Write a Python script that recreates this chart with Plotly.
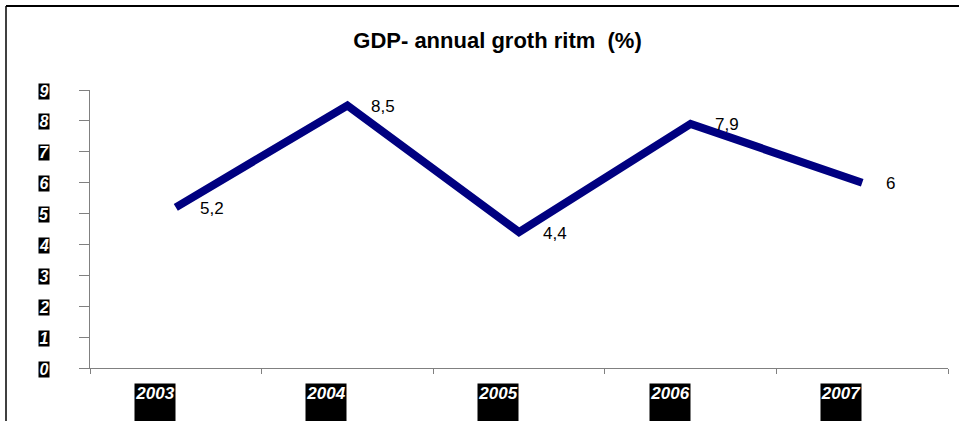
import plotly.graph_objects as go

years = ["2003", "2004", "2005", "2006", "2007"]
growth = [5.2, 8.5, 4.4, 7.9, 6.0]
value_labels = ["5,2", "8,5", "4,4", "7,9", "6"]
y_ticks = [0, 1, 2, 3, 4, 5, 6, 7, 8, 9]

FONT = "Arial, Liberation Sans, sans-serif"

fig = go.Figure()
fig.add_trace(go.Scatter(
    x=years, y=growth, mode="lines",
    line=dict(color="#000080", width=8),
    hoverinfo="skip", showlegend=False,
))

L, R, T, B = 90, 11, 90, 53
W, H = 959, 421
pw = W - L - R
ph = H - T - B

def px_x(px):
    return (px - L) / pw

def px_y(py):
    return (H - B - py) / ph

annotations = []
# data labels
for i, (v, lab) in enumerate(zip(growth, value_labels)):
    annotations.append(dict(
        x=i, y=v, xref="x", yref="y", text=lab, showarrow=False,
        xanchor="left", yanchor="middle", xshift=22, yshift=-1,
        font=dict(family=FONT, size=17, color="black"),
    ))
# y tick labels
for t in y_ticks:
    annotations.append(dict(
        x=px_x(43.5), y=t, xref="paper", yref="y", text="<b><i>%d</i></b>" % t,
        showarrow=False, xanchor="center", yanchor="middle", yshift=-1,
        bgcolor="black", width=10, height=15, borderpad=0,
        font=dict(family=FONT, size=16, color="white"),
    ))
# x tick labels
for i, yr in enumerate(years):
    annotations.append(dict(
        x=i, y=px_y(383), xref="x", yref="paper", text="<b><i>%s</i></b>" % yr,
        showarrow=False, xanchor="center", yanchor="top", xshift=-21,
        bgcolor="black", width=40, height=45, borderpad=0, valign="top", align="center",
        font=dict(family=FONT, size=17, color="white"),
    ))

shapes = [
    dict(type="line", xref="paper", yref="paper", x0=px_x(6), x1=px_x(6),
         y0=px_y(6), y1=px_y(425), line=dict(color="#404040", width=2)),
    dict(type="line", xref="paper", yref="paper", x0=px_x(6), x1=px_x(962),
         y0=px_y(6), y1=px_y(6), line=dict(color="black", width=2)),
]

fig.update_layout(
    width=W, height=H,
    margin=dict(l=L, r=R, t=T, b=B),
    paper_bgcolor="white", plot_bgcolor="white",
    title=dict(text="<b>GDP- annual groth ritm \u00a0(%)</b>", x=497.5 / W, xanchor="center",
               y=1 - 40 / H, yanchor="middle",
               font=dict(family=FONT, size=22, color="black")),
    xaxis=dict(type="category", range=[-0.5, 4.5], tickson="boundaries",
               ticks="outside", ticklen=5, tickcolor="#808080",
               showticklabels=False, showline=True, linecolor="#808080", linewidth=1,
               showgrid=False, zeroline=False, fixedrange=True),
    yaxis=dict(range=[0, 9], tickvals=y_ticks, ticks="outside", ticklen=10,
               tickcolor="#808080", showticklabels=False, showline=True,
               linecolor="#808080", linewidth=1, showgrid=False, zeroline=False,
               fixedrange=True),
    annotations=annotations,
    shapes=shapes,
    font=dict(family=FONT),
)

fig.write_html("out.html", config={"displayModeBar": False})
